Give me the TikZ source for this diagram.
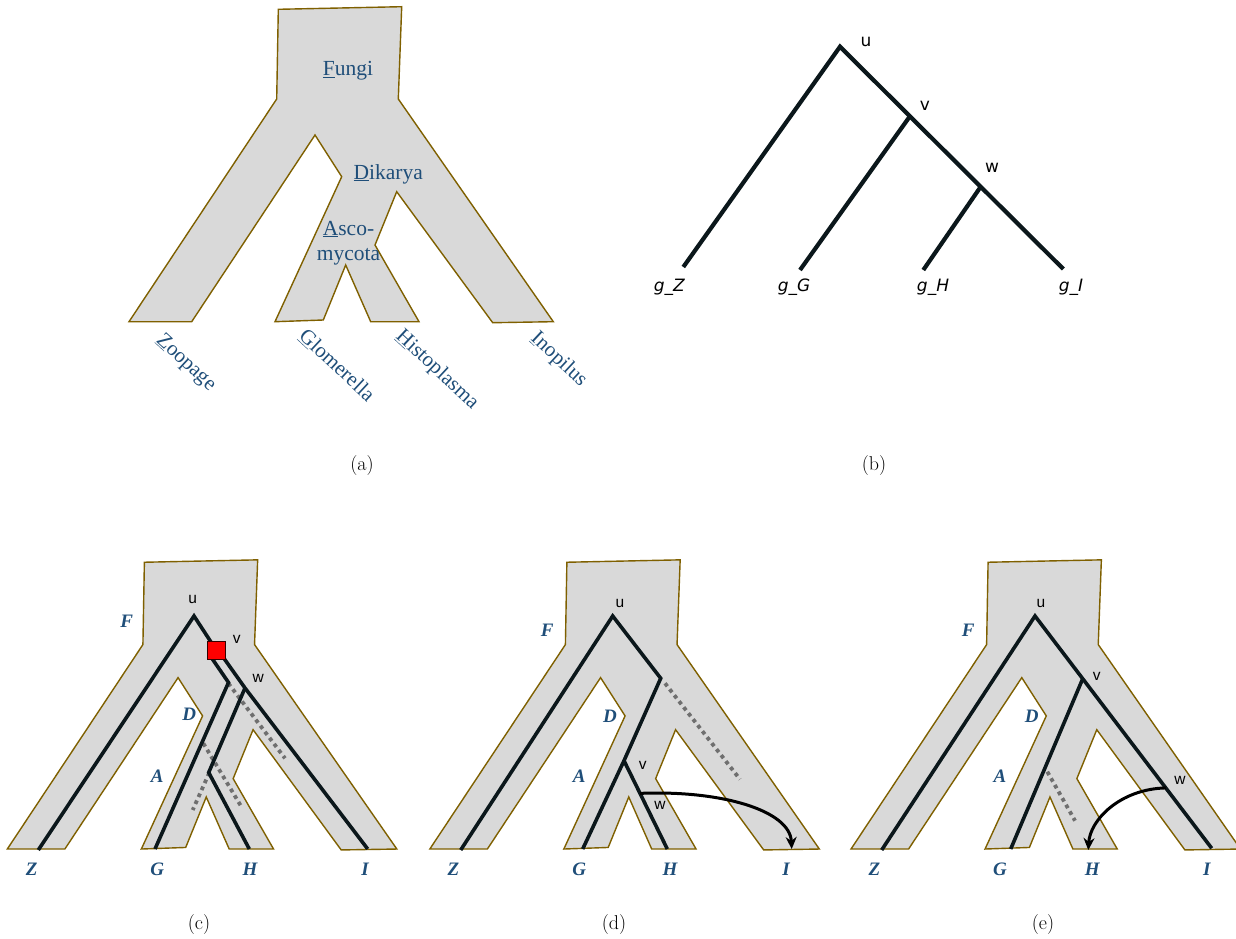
\documentclass[tikz,border=0pt]{standalone}
\usepackage{fontspec}
\newfontfamily\tnr{Liberation Serif}
\newfontfamily\dvs{DejaVu Sans}
\newfontfamily\lsans{Liberation Sans}
\usetikzlibrary{arrows.meta,calc}
\definecolor{shapefill}{HTML}{D9D9D9}
\definecolor{shapeline}{HTML}{7F6000}
\definecolor{txtblue}{HTML}{1F4E79}
\definecolor{treecol}{HTML}{0B171B}
\definecolor{dotgray}{HTML}{6F6F6F}
\tikzset{
  fungi/.pic={
    \draw[fill=shapefill, draw=shapeline, line width=1.4pt, line join=miter]
      (278.3,9.3) -- (401.7,6.7) -- (398.3,99) -- (553.3,321.7) -- (492.7,322.7)
      -- (396.7,191.7) -- (375,245) -- (419,321.7) -- (370.7,321.7) -- (345.7,265)
      -- (323.3,320) -- (275,321.7) -- (341.7,176.7) -- (315,135) -- (191.7,321.7)
      -- (129,321.7) -- (276.7,99) -- cycle;
  },
  tree/.style={draw=treecol, line width=3.6pt, line join=miter, line cap=butt},
  btree/.style={draw=treecol, line width=4.2pt, line join=miter, line cap=butt},
  dotline/.style={draw=dotgray, line width=3.8pt, dash pattern=on 3.8pt off 3.8pt},
  movearrow/.style={draw=black, line width=3pt, -{Stealth[length=12pt,width=11pt]}},
  clade/.style={font=\tnr\fontsize{21.5}{25}\selectfont, text=txtblue, inner sep=0pt, align=center},
  leafname/.style={font=\tnr\fontsize{21}{25}\selectfont, text=txtblue, inner sep=0pt, anchor=north west, rotate=-43},
  sp/.style={font=\tnr\bfseries\itshape\fontsize{19}{22}\selectfont, text=txtblue, inner sep=0pt},
  glab/.style={font=\dvs\itshape\fontsize{17}{20}\selectfont, text=black, inner sep=0pt},
  blab/.style={font=\dvs\fontsize{17}{20}\selectfont, text=black, inner sep=0pt},
  nlab/.style={font=\lsans\fontsize{15.5}{18}\selectfont, text=black, inner sep=0pt},
  captext/.style={font=\fontsize{20}{22}\selectfont, inner sep=0pt}
}
\begin{document}
\begin{tikzpicture}[x=1pt,y=-1pt]
\useasboundingbox (0,0) rectangle (1236,939);
% ---------------- (a)
\pic {fungi};
\node[clade] (fungi) at (348,71) {\underline{F}ungi};
\node[clade] (dikarya) at (388.3,174) {\underline{D}ikarya};
\node[clade] (asco) at (348.5,243) {\underline{A}sco-\\mycota};
\node[leafname] (zoopage) at (165,331) {\underline{Z}oopage};
\node[leafname] (glomerella) at (308,327) {\underline{G}lomerella};
\node[leafname] (histoplasma) at (405,327) {\underline{H}istoplasma};
\node[leafname] (inopilus) at (540,329) {\underline{I}nopilus};
\node[captext] (capa) at (362,466) {(a)};
% ---------------- (b)
\coordinate (bu) at (840,46.7);
\coordinate (bI) at (1063.3,269);
\coordinate (bv) at ($(bu)!0.313!(bI)$);
\coordinate (bw) at ($(bu)!0.63!(bI)$);
\coordinate (bZ) at (683.3,267);
\coordinate (bG) at (800,270);
\coordinate (bH) at (923.3,270);
\draw[btree] (bZ) -- (bu) -- (bI);
\draw[btree] (bv) -- (bG);
\draw[btree] (bw) -- (bH);
\node[blab] (bul) at (866,41.7) {u};
\node[blab] (bvl) at (925,106) {v};
\node[blab] (bwl) at (992,168) {w};
\node[glab] (gZ) at (669.3,287) {g\_Z};
\node[glab] (gG) at (794,287) {g\_G};
\node[glab] (gH) at (933,287) {g\_H};
\node[glab] (gI) at (1071,287) {g\_I};
\node[captext] (capb) at (874,466) {(b)};
% ---------------- (c)
\begin{scope}[shift={(-111.1,553.7)},scale=0.918]
  \pic[transform shape] {fungi};
\end{scope}
\coordinate (cu) at (194,616);
\coordinate (cZ) at (38.3,850);
\coordinate (cs1) at (211,657);
\coordinate (cs2) at (223,657);
\coordinate (c1) at (228.5,682.5);
\coordinate (cG) at (155,849);
\coordinate (cw) at (245,688);
\coordinate (cI) at (367.7,849);
\coordinate (c2) at (208.7,772.5);
\coordinate (cH) at (249.3,849);
\coordinate (cd1a) at (228.3,683.3);
\coordinate (cd1b) at (285,758.3);
\coordinate (cd2a) at (203.3,743.3);
\coordinate (cd2b) at (241.7,807.3);
\coordinate (cd3a) at (209.3,772.7);
\coordinate (cd3b) at (192.7,810);
\draw[dotline] (cd1a) -- (cd1b);
\draw[dotline] (cd2a) -- (cd2b);
\draw[dotline] (cd3a) -- (cd3b);
\draw[tree] (cZ) -- (cu) -- (216.5,650.5);
\draw[tree] (cs1) -- (c1) -- (cG);
\draw[tree] (cs2) -- (cw) -- (cI);
\draw[tree] (cw) -- (c2) -- (cH);
\node[draw=black!80!red, line width=1.1pt, fill=red, minimum size=18.5pt, inner sep=0pt] (csq) at (216.5,650.5) {};
\node[nlab] (cul) at (192.7,599.3) {u};
\node[nlab] (cvl) at (236.7,639.3) {v};
\node[nlab] (cwl) at (258.3,678.3) {w};
\node[sp] (cF) at (126.7,621) {F};
\node[sp] (cD) at (189.3,714) {D};
\node[sp] (cA) at (157.3,776.7) {A};
\node[sp] (cZl) at (31.7,869.3) {Z};
\node[sp] (cGl) at (157.3,869.3) {G};
\node[sp] (cHl) at (250,869.3) {H};
\node[sp] (cIl) at (365,869.3) {I};
\node[captext] (capc) at (199,924) {(c)};
% ---------------- (d)
\begin{scope}[shift={(311.4,553.7)},scale=0.918]
  \pic[transform shape] {fungi};
\end{scope}
\coordinate (du) at (612.7,616);
\coordinate (dZ) at (460.7,850);
\coordinate (dx) at (660.7,678.3);
\coordinate (dv) at (624,760.7);
\coordinate (dG) at (582.7,849);
\coordinate (dH) at (667.3,849);
\coordinate (dIe) at (791.7,849);
\coordinate (dda) at (665,683.3);
\coordinate (ddb) at (740,779.3);
\coordinate (dst) at ($(dv)!0.37!(dH)$);
\draw[dotline] (dda) -- (ddb);
\draw[tree] (dZ) -- (du) -- (dx) -- (dv) -- (dG);
\draw[tree] (dv) -- (dH);
\draw[movearrow] (dst) .. controls (720,790) and (790,810) .. (dIe);
\node[nlab] (dul) at (620,603.3) {u};
\node[nlab] (dvl) at (642.7,765) {v};
\node[nlab] (dwl) at (660,805) {w};
\node[sp] (dF) at (547.3,630) {F};
\node[sp] (dD) at (610,716.7) {D};
\node[sp] (dA) at (579.3,776.7) {A};
\node[sp] (dZl) at (453.3,869.3) {Z};
\node[sp] (dGl) at (579.3,869.3) {G};
\node[sp] (dHl) at (670,869.3) {H};
\node[sp] (dIl) at (786,869.3) {I};
\node[captext] (capd) at (614,924) {(d)};
% ---------------- (e)
\begin{scope}[shift={(732.6,553.7)},scale=0.918]
  \pic[transform shape] {fungi};
\end{scope}
\coordinate (eu) at (1035,616);
\coordinate (eI) at (1211.7,848.3);
\coordinate (eZ) at (881.7,850);
\coordinate (ev) at ($(eu)!0.27!(eI)$);
\coordinate (ew) at ($(eu)!0.74!(eI)$);
\coordinate (eG) at (1010.7,849);
\coordinate (eHe) at (1088.3,850);
\coordinate (eda) at (1047.3,771.7);
\coordinate (edb) at (1075,820.7);
\draw[dotline] (eda) -- (edb);
\draw[tree] (eZ) -- (eu) -- (eI);
\draw[tree] (ev) -- (eG);
\draw[movearrow] (ew) .. controls (1120,789) and (1090,820) .. (eHe);
\node[nlab] (eul) at (1041,603.3) {u};
\node[nlab] (evl) at (1096.7,676) {v};
\node[nlab] (ewl) at (1180,780.7) {w};
\node[sp] (eF) at (968.3,630) {F};
\node[sp] (eD) at (1031.7,716.7) {D};
\node[sp] (eA) at (1000,776.7) {A};
\node[sp] (eZl) at (874.3,869.3) {Z};
\node[sp] (eGl) at (1000,869.3) {G};
\node[sp] (eHl) at (1092.3,869.3) {H};
\node[sp] (eIl) at (1206.7,869.3) {I};
\node[captext] (cape) at (1043,924) {(e)};
\end{tikzpicture}
\end{document}
